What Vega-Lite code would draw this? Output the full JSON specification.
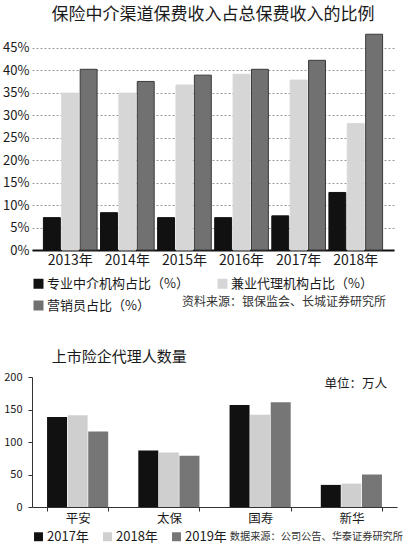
{
  "$schema": "https://vega.github.io/schema/vega-lite/v6.json",
  "background": "#ffffff",
  "padding": {"left": 2, "top": 6, "right": 4, "bottom": 0},
  "spacing": 37,
  "resolve": {"scale": {"color": "independent", "x": "independent", "y": "independent", "xOffset": "independent"}},
  "datasets": {
    "share": [
      {"year": "2013年", "type": "专业中介机构占比（%）", "pct": 7.2},
      {"year": "2013年", "type": "兼业代理机构占比（%）", "pct": 34.9},
      {"year": "2013年", "type": "营销员占比（%）", "pct": 40.2},
      {"year": "2014年", "type": "专业中介机构占比（%）", "pct": 8.3},
      {"year": "2014年", "type": "兼业代理机构占比（%）", "pct": 34.9},
      {"year": "2014年", "type": "营销员占比（%）", "pct": 37.5},
      {"year": "2015年", "type": "专业中介机构占比（%）", "pct": 7.2},
      {"year": "2015年", "type": "兼业代理机构占比（%）", "pct": 36.7},
      {"year": "2015年", "type": "营销员占比（%）", "pct": 38.9},
      {"year": "2016年", "type": "专业中介机构占比（%）", "pct": 7.2},
      {"year": "2016年", "type": "兼业代理机构占比（%）", "pct": 39.1},
      {"year": "2016年", "type": "营销员占比（%）", "pct": 40.2},
      {"year": "2017年", "type": "专业中介机构占比（%）", "pct": 7.6},
      {"year": "2017年", "type": "兼业代理机构占比（%）", "pct": 37.8},
      {"year": "2017年", "type": "营销员占比（%）", "pct": 42.2},
      {"year": "2018年", "type": "专业中介机构占比（%）", "pct": 12.8},
      {"year": "2018年", "type": "兼业代理机构占比（%）", "pct": 28.1},
      {"year": "2018年", "type": "营销员占比（%）", "pct": 48.0}
    ],
    "agents": [
      {"company": "平安", "year": "2017年", "count": 138.5},
      {"company": "平安", "year": "2018年", "count": 141},
      {"company": "平安", "year": "2019年", "count": 116},
      {"company": "太保", "year": "2017年", "count": 87},
      {"company": "太保", "year": "2018年", "count": 84},
      {"company": "太保", "year": "2019年", "count": 79},
      {"company": "国寿", "year": "2017年", "count": 157},
      {"company": "国寿", "year": "2018年", "count": 142},
      {"company": "国寿", "year": "2019年", "count": 161},
      {"company": "新华", "year": "2017年", "count": 34},
      {"company": "新华", "year": "2018年", "count": 36},
      {"company": "新华", "year": "2019年", "count": 50}
    ]
  },
  "vconcat": [
    {
      "title": {
        "text": "资料来源：银保监会、长城证券研究所",
        "orient": "bottom",
        "anchor": "end",
        "offset": -16,
        "dx": -8,
        "fontSize": 12,
        "fontWeight": "normal",
        "color": "#333333"
      },
      "resolve": {"scale": {"xOffset": "independent"}},
      "vconcat": [
        {
          "title": {
            "text": "保险中介渠道保费收入占总保费收入的比例",
            "anchor": "middle",
            "fontSize": 17,
            "fontWeight": "normal",
            "color": "#1a1a1a",
            "offset": 8
          },
          "data": {"name": "share"},
          "width": 362,
          "height": 218,
          "mark": {"type": "bar", "strokeWidth": 1},
          "encoding": {
            "x": {
              "field": "year",
              "type": "nominal",
              "scale": {"paddingInner": 0.06, "paddingOuter": 0.2},
              "axis": {
                "title": null,
                "labelAngle": 0,
                "labelFontSize": 14,
                "labelColor": "#1a1a1a",
                "ticks": false,
                "domainColor": "#111111",
                "domainWidth": 2,
                "labelPadding": 3
              }
            },
            "xOffset": {
              "field": "type",
              "type": "nominal",
              "sort": ["专业中介机构占比（%）", "兼业代理机构占比（%）", "营销员占比（%）"],
              "scale": {"paddingInner": 0.08}
            },
            "y": {
              "field": "pct",
              "type": "quantitative",
              "scale": {"domain": [0, 48.5], "nice": false},
              "axis": {
                "title": null,
                "values": [0, 5, 10, 15, 20, 25, 30, 35, 40, 45],
                "labelExpr": "datum.value + '%'",
                "labelFontSize": 13,
                "labelColor": "#1a1a1a",
                "domain": false,
                "ticks": false,
                "grid": true,
                "gridColor": "#9a9a9a",
                "gridDash": [2, 2],
                "labelPadding": 3
              }
            },
            "color": {
              "field": "type",
              "type": "nominal",
              "sort": ["专业中介机构占比（%）", "兼业代理机构占比（%）", "营销员占比（%）"],
              "scale": {
                "domain": ["专业中介机构占比（%）", "兼业代理机构占比（%）", "营销员占比（%）"],
                "range": ["#111111", "#d6d6d6", "#717171"]
              },
              "legend": {
                "title": null,
                "orient": "bottom",
                "direction": "horizontal",
                "columns": 2,
                "columnPadding": 27,
                "rowPadding": 8,
                "symbolType": "square",
                "symbolSize": 100,
                "symbolStrokeWidth": 0,
                "labelFontSize": 13,
                "labelColor": "#1a1a1a",
                "labelOffset": 2,
                "offset": 10,
                "padding": 0
              }
            },
            "stroke": {
              "field": "type",
              "type": "nominal",
              "scale": {
                "domain": ["专业中介机构占比（%）", "兼业代理机构占比（%）", "营销员占比（%）"],
                "range": ["#111111", "#d6d6d6", "#3a3a3a"]
              },
              "legend": null
            }
          }
        }
      ]
    },
    {
      "title": {
        "text": "数据来源：公司公告、华泰证券研究所",
        "orient": "bottom",
        "anchor": "end",
        "offset": -12,
        "dx": 6,
        "fontSize": 10.2,
        "fontWeight": "normal",
        "color": "#333333"
      },
      "resolve": {"scale": {"xOffset": "independent"}},
      "vconcat": [
        {
          "title": {
            "text": "上市险企代理人数量",
            "anchor": "start",
            "dx": 48,
            "fontSize": 15,
            "fontWeight": "normal",
            "color": "#1a1a1a",
            "offset": 6
          },
          "data": {"name": "agents"},
          "width": 365,
          "height": 130,
          "mark": {"type": "bar"},
          "encoding": {
            "x": {
              "field": "company",
              "type": "nominal",
              "sort": ["平安", "太保", "国寿", "新华"],
              "scale": {"paddingInner": 0.33, "paddingOuter": 0.165},
              "axis": {
                "title": null,
                "labelAngle": 0,
                "labelFontSize": 12.5,
                "labelColor": "#1a1a1a",
                "tickBand": "extent",
                "tickColor": "#333333",
                "tickSize": 4,
                "domainColor": "#333333",
                "labelPadding": 1
              }
            },
            "xOffset": {
              "field": "year",
              "type": "nominal",
              "scale": {"paddingInner": 0.03}
            },
            "y": {
              "field": "count",
              "type": "quantitative",
              "scale": {"domain": [0, 200], "nice": false},
              "axis": {
                "title": "单位：万人",
                "titleAngle": 0,
                "titleAlign": "left",
                "titleBaseline": "middle",
                "titleX": 292,
                "titleY": 6,
                "titleFontSize": 12.5,
                "titleFontWeight": "normal",
                "titleColor": "#1a1a1a",
                "values": [0, 50, 100, 150, 200],
                "labelFontSize": 11,
                "labelColor": "#1a1a1a",
                "grid": false,
                "domainColor": "#333333",
                "tickColor": "#333333",
                "tickSize": 4,
                "labelPadding": 6
              }
            },
            "color": {
              "field": "year",
              "type": "nominal",
              "scale": {
                "domain": ["2017年", "2018年", "2019年"],
                "range": ["#111111", "#cfcfcf", "#767676"]
              },
              "legend": {
                "title": null,
                "orient": "bottom",
                "direction": "horizontal",
                "columnPadding": 12,
                "symbolType": "square",
                "symbolSize": 80,
                "symbolStrokeWidth": 0,
                "labelFontSize": 13,
                "labelColor": "#1a1a1a",
                "labelOffset": 2,
                "offset": 5,
                "padding": 0
              }
            }
          }
        }
      ]
    }
  ],
  "config": {
    "font": "Noto Sans CJK SC",
    "view": {"stroke": null},
    "axis": {"labelFont": "Noto Sans CJK SC"},
    "legend": {"labelFont": "Noto Sans CJK SC"}
  }
}
